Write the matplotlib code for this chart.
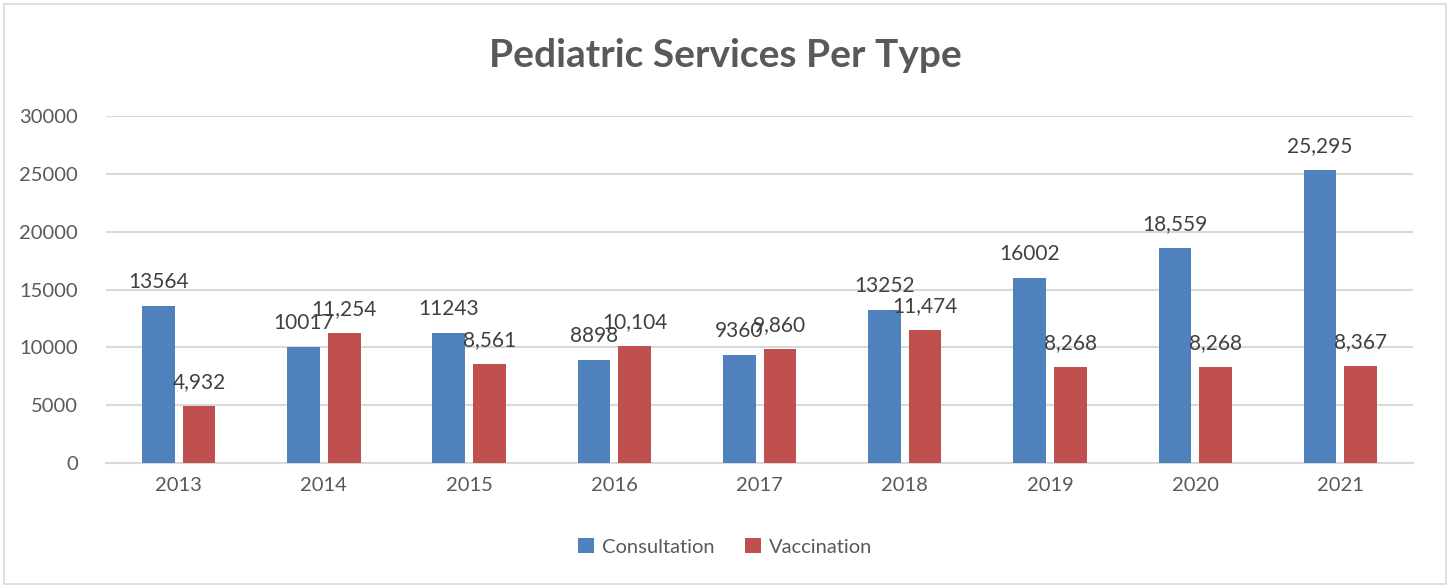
import numpy as np
import matplotlib.pyplot as plt
from matplotlib.patches import Rectangle

plt.rcParams['font.family'] = ['Lato', 'DejaVu Sans']

# data
years = ['2013', '2014', '2015', '2016', '2017', '2018', '2019', '2020', '2021']
consultation = [13564, 10017, 11243, 8898, 9360, 13252, 16002, 18559, 25295]
vaccination = [4932, 11254, 8561, 10104, 9860, 11474, 8268, 8268, 8367]
consult_labels = ['13564', '10017', '11243', '8898', '9360', '13252', '16002', '18,559', '25,295']
vacc_labels = ['4,932', '11,254', '8,561', '10,104', '9,860', '11,474', '8,268', '8,268', '8,367']

blue = '#4f81bd'
red = '#c0504d'
grey = '#595959'

fig = plt.figure(figsize=(14.5, 5.88), dpi=100)
ax = fig.add_axes([0.0731, 0.2126, 0.9014, 0.5901])

# chart border
fig.patches.append(Rectangle((0.003, 0.006), 0.994, 0.988, transform=fig.transFigure,
                             fill=False, edgecolor='#d9d9d9', linewidth=1.2))

x = np.arange(len(years))
w = 0.225
b1 = ax.bar(x - 0.14, consultation, w, color=blue, label='Consultation', zorder=3)
b2 = ax.bar(x + 0.14, vaccination, w, color=red, label='Vaccination', zorder=3)

for bars, labels in [(b1, consult_labels), (b2, vacc_labels)]:
    for rect, lab in zip(bars, labels):
        ax.annotate(lab, (rect.get_x() + rect.get_width() / 2, rect.get_height()),
                    xytext=(0, 10), textcoords='offset points', ha='center', va='bottom',
                    fontsize=15, color='#404040')

ax.set_xlim(-0.5, len(years) - 0.5)
ax.set_ylim(0, 30000)
ax.set_yticks(range(0, 30001, 5000))
ax.set_xticks(x)
ax.set_xticklabels(years)
ax.tick_params(axis='both', length=0, labelsize=14.5, colors=grey)
ax.tick_params(axis='x', pad=10)
ax.tick_params(axis='y', pad=20)
ax.yaxis.grid(True, color='#d9d9d9', linewidth=1.5, zorder=0)
for s in ['top', 'right', 'left']:
    ax.spines[s].set_visible(False)
ax.spines['bottom'].set_color('#d9d9d9')
ax.spines['bottom'].set_linewidth(1.5)

fig.text(0.5, 0.905, 'Pediatric Services Per Type', ha='center', va='center',
         fontsize=28, fontweight='bold', color=grey)

leg = fig.legend(loc='center', bbox_to_anchor=(0.5, 0.07), ncol=2, frameon=False,
                 fontsize=14.5, handlelength=0.8, handleheight=0.8, columnspacing=1.5,
                 handletextpad=0.4)
for t in leg.get_texts():
    t.set_color(grey)

fig.savefig('out.png', dpi=100)
